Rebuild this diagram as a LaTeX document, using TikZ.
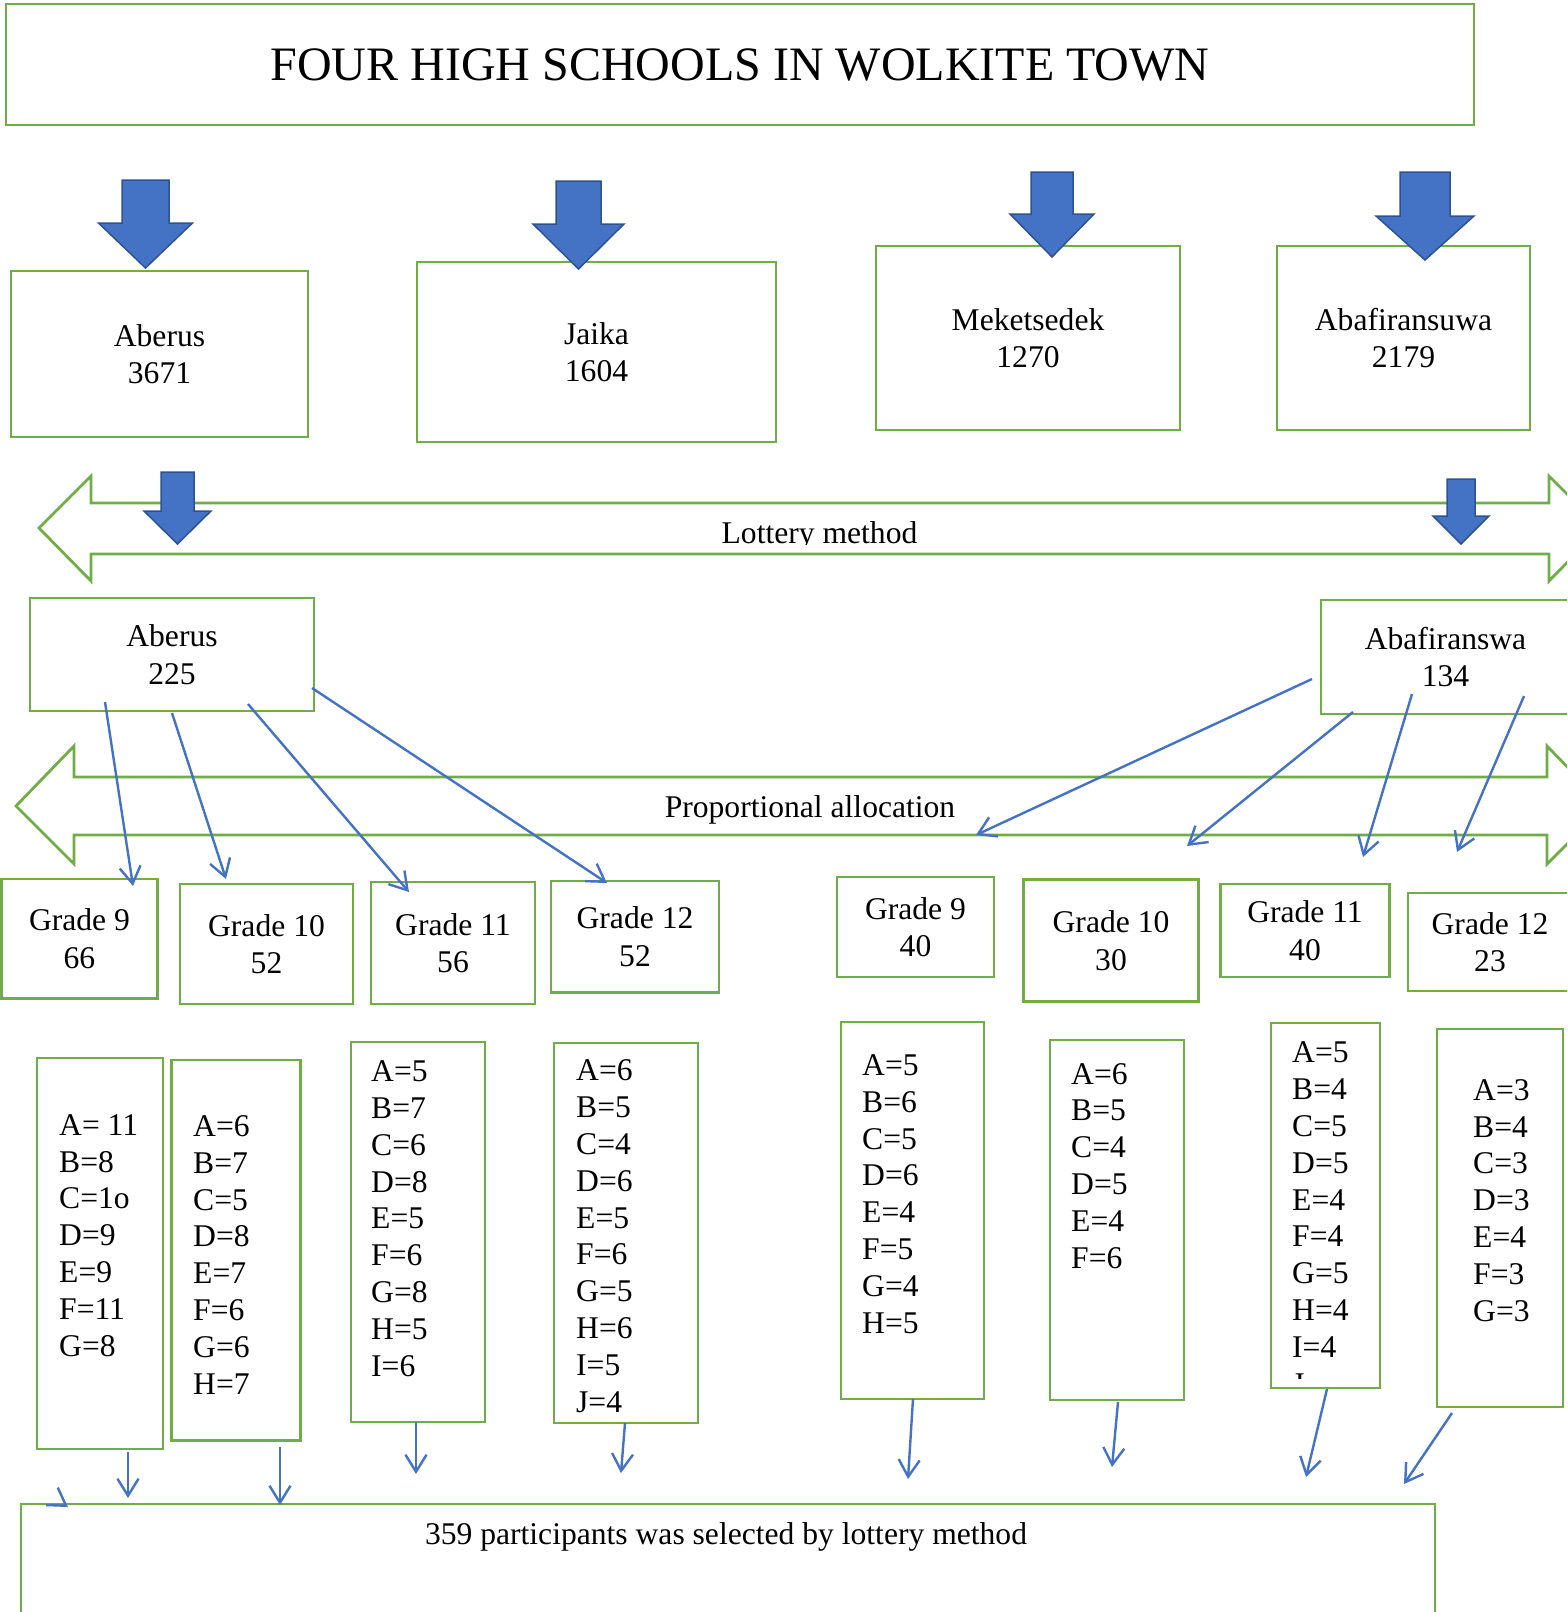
\documentclass[tikz,border=0pt]{standalone}
\usepackage{fontspec}
\setmainfont{Liberation Serif}
\usetikzlibrary{arrows.meta}
\definecolor{boxgreen}{HTML}{70AD47}
\definecolor{arrowblue}{HTML}{4472C4}
\definecolor{arrowedge}{HTML}{2F528F}
\tikzset{
  greenbox/.style={draw=boxgreen, line width=2.8pt, rectangle, inner sep=0pt, align=center},
  listtext/.style={anchor=base west, align=left, inner sep=0pt, font=\fontsize{31.6}{36.8}\selectfont},
  band/.style={draw=boxgreen, line width=2.8pt, fill=white},
  bigarrow/.style={fill=arrowblue, draw=arrowedge, line width=1.5pt},
  link/.style={draw=arrowblue, line width=2.4pt, -{Straight Barb[length=17pt,width=21pt]}},
}
% centre x, top, neck, tip, half shaft, half head
\newcommand{\blockarrow}[6]{\draw[bigarrow] (#1-#5,#2) -- (#1+#5,#2) -- (#1+#5,#3) -- (#1+#6,#3) -- (#1,#4) -- (#1-#6,#3) -- (#1-#5,#3) -- cycle;}
\begin{document}
\begin{tikzpicture}[x=1pt,y=-1pt,font=\fontsize{31.6}{37.5}\selectfont]
\useasboundingbox (0,0) rectangle (1567,1612);
\clip (0,0) rectangle (1567,1612);
%\draw[help lines] (0,0) grid[step=100] (1567,1612);
\node[greenbox,minimum width=1468,minimum height=121,font=\fontsize{48}{58}\selectfont](title) at (740,64.5) {FOUR HIGH SCHOOLS IN WOLKITE TOWN};
\node[greenbox,minimum width=297,minimum height=166](aberus) at (159.5,354) {Aberus\\3671};
\node[greenbox,minimum width=359,minimum height=180](jaika) at (596.5,352) {Jaika\\1604};
\node[greenbox,minimum width=304,minimum height=184](meket) at (1028,338) {Meketsedek\\1270};
\node[greenbox,minimum width=253,minimum height=184](abafi) at (1403.5,338) {Abafiransuwa\\2179};
\node[greenbox,minimum width=284,minimum height=113](ab2) at (172,654.5) {Aberus\\225};
\node[greenbox,minimum width=249,minimum height=114](af2) at (1445.5,657) {Abafiranswa\\134};
\node[greenbox,minimum width=156,minimum height=119.5](g9a) at (79.5,938.75) {Grade 9\\66};
\node[greenbox,minimum width=173,minimum height=120](g10a) at (266.5,944) {Grade 10\\52};
\node[greenbox,minimum width=164,minimum height=122](g11a) at (453,943) {Grade 11\\56};
\node[greenbox,minimum width=168,minimum height=111.5](g12a) at (635,936.75) {Grade 12\\52};
\node[greenbox,minimum width=157,minimum height=100](g9b) at (915.5,927) {Grade 9\\40};
\node[greenbox,minimum width=175,minimum height=122](g10b) at (1111,940.5) {Grade 10\\30};
\node[greenbox,minimum width=169,minimum height=93](g11b) at (1305,930.5) {Grade 11\\40};
\node[greenbox,minimum width=164,minimum height=98](g12b) at (1490,942) {Grade 12\\23};
\node[greenbox,minimum width=126,minimum height=391](l1) at (100,1253.5) {};
\node[greenbox,minimum width=129,minimum height=380.5](l2) at (236,1250.25) {};
\node[greenbox,minimum width=134,minimum height=380](l3) at (418,1232) {};
\node[greenbox,minimum width=144,minimum height=380](l4) at (626,1233) {};
\node[greenbox,minimum width=143,minimum height=377](r1) at (912.5,1210.5) {};
\node[greenbox,minimum width=134,minimum height=360](r2) at (1117,1220) {};
\node[greenbox,minimum width=109,minimum height=365](r3) at (1325.5,1205.5) {};
\node[greenbox,minimum width=126,minimum height=378](r4) at (1500,1218) {};
\node[listtext](l1t) at (59,1356) {A= 11\\B=8\\C=1o\\D=9\\E=9\\F=11\\G=8};
\node[listtext](l2t) at (193,1394) {A=6\\B=7\\C=5\\D=8\\E=7\\F=6\\G=6\\H=7};
\node[listtext](l3t) at (371,1376) {A=5\\B=7\\C=6\\D=8\\E=5\\F=6\\G=8\\H=5\\I=6};
\node[listtext](l4t) at (576,1412) {A=6\\B=5\\C=4\\D=6\\E=5\\F=6\\G=5\\H=6\\I=5\\J=4};
\node[listtext](r1t) at (862,1333) {A=5\\B=6\\C=5\\D=6\\E=4\\F=5\\G=4\\H=5};
\node[listtext](r2t) at (1071,1268) {A=6\\B=5\\C=4\\D=5\\E=4\\F=6};
\begin{scope}
\clip (1271,1023) rectangle (1380,1378);
\node[listtext](r3t) at (1292,1394) {A=5\\B=4\\C=5\\D=5\\E=4\\F=4\\G=5\\H=4\\I=4\\J};
\end{scope}
\node[listtext](r4t) at (1473,1321) {A=3\\B=4\\C=3\\D=3\\E=4\\F=3\\G=3};
\node[greenbox,minimum width=1414,minimum height=136](sel) at (728,1572) {};
\node[anchor=base,inner sep=0pt](selt) at (726,1544) {359 participants was selected by lottery method};

\draw[band] (39,528) -- (91,476) -- (91,503) -- (1549,503) -- (1549,476) -- (1601,528) -- (1549,581) -- (1549,554) -- (91,554) -- (91,581) -- cycle;
\draw[band] (16,806) -- (74,746) -- (74,777) -- (1547,777) -- (1547,746) -- (1605,806) -- (1547,864) -- (1547,835) -- (74,835) -- (74,864) -- cycle;
\begin{scope}
\clip (700,490) rectangle (940,544.5);
\node[anchor=base,inner sep=0pt](lottery) at (819.5,543) {Lottery method};
\end{scope}
\node[anchor=base,inner sep=0pt](propo) at (810,817) {Proportional allocation};

\blockarrow{145.5}{180}{223}{268}{23.5}{47}
\blockarrow{578.5}{181}{224}{269}{22.5}{45.5}
\blockarrow{1052}{172}{214}{257}{21}{42}
\blockarrow{1425}{172}{216}{260}{25}{49}
\blockarrow{177.5}{472}{511}{544}{16.5}{33.5}
\blockarrow{1461}{479}{516}{544}{14}{28}

\coordinate (a1s) at (105,702);
\coordinate (a1e) at (133,886);
\coordinate (a2s) at (172,713);
\coordinate (a2e) at (226,879);
\coordinate (a3s) at (248,704);
\coordinate (a3e) at (409,892);
\coordinate (a4s) at (312,688);
\coordinate (a4e) at (607,883);
\coordinate (b1s) at (1312,679);
\coordinate (b1e) at (976,835);
\coordinate (b2s) at (1353,712);
\coordinate (b2e) at (1187,846);
\coordinate (b3s) at (1412,694);
\coordinate (b3e) at (1363,857);
\coordinate (b4s) at (1524,696);
\coordinate (b4e) at (1457,852);
\coordinate (s0s) at (64.7,1504.8);
\coordinate (s0e) at (68,1507);
\coordinate (s1s) at (128,1452);
\coordinate (s1e) at (128,1498);
\coordinate (s2s) at (280,1447);
\coordinate (s2e) at (280,1505);
\coordinate (s3s) at (416,1422);
\coordinate (s3e) at (416,1474);
\coordinate (s4s) at (625,1423);
\coordinate (s4e) at (621,1473);
\coordinate (s5s) at (913,1399);
\coordinate (s5e) at (908,1479);
\coordinate (s6s) at (1118,1402);
\coordinate (s6e) at (1112,1467);
\coordinate (s7s) at (1327,1389);
\coordinate (s7e) at (1306,1477);
\coordinate (s8s) at (1452,1413);
\coordinate (s8e) at (1404,1484);

\draw[link](a1s)--(a1e);
\draw[link](a2s)--(a2e);
\draw[link](a3s)--(a3e);
\draw[link](a4s)--(a4e);
\draw[link](b1s)--(b1e);
\draw[link](b2s)--(b2e);
\draw[link](b3s)--(b3e);
\draw[link](b4s)--(b4e);
\draw[link](s0s)--(s0e);
\draw[link](s1s)--(s1e);
\draw[link](s2s)--(s2e);
\draw[link](s3s)--(s3e);
\draw[link](s4s)--(s4e);
\draw[link](s5s)--(s5e);
\draw[link](s6s)--(s6e);
\draw[link](s7s)--(s7e);
\draw[link](s8s)--(s8e);
\end{tikzpicture}
\end{document}
